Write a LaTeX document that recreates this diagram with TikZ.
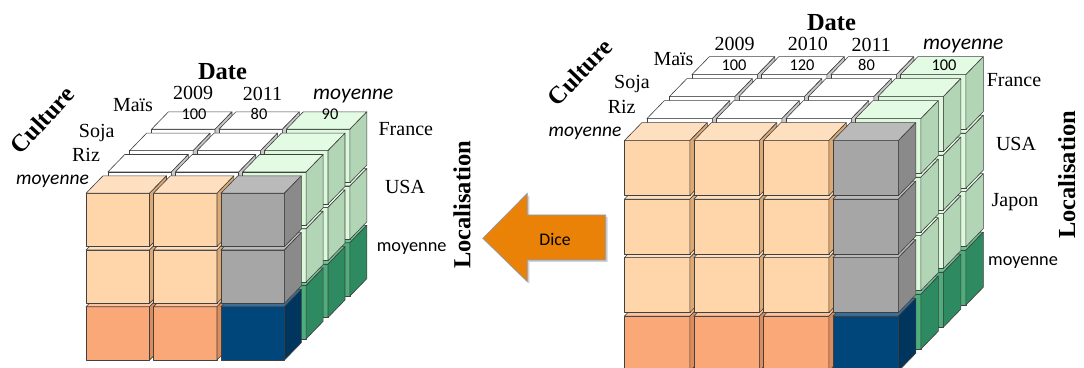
\documentclass[tikz,border=0pt]{standalone}
\usepackage{fontspec}
\setmainfont{Liberation Serif}
\newfontfamily\calibri{Carlito}
\definecolor{creamFront}{HTML}{FFD6AA}
\definecolor{creamTop}{HTML}{FEE0C0}
\definecolor{creamSide}{HTML}{DDA872}
\definecolor{salmonFront}{HTML}{FBA878}
\definecolor{salmonTop}{HTML}{FCC29E}
\definecolor{salmonSide}{HTML}{DC8C5C}
\definecolor{grayFront}{HTML}{A6A6A6}
\definecolor{grayTop}{HTML}{BABABA}
\definecolor{graySide}{HTML}{8A8A8A}
\definecolor{blueFront}{HTML}{00467A}
\definecolor{blueTop}{HTML}{3C6E9C}
\definecolor{blueSide}{HTML}{00365E}
\definecolor{whiteFront}{HTML}{FFFFFF}
\definecolor{whiteTop}{HTML}{FFFFFF}
\definecolor{whiteSide}{HTML}{C8C8C8}
\definecolor{ltgreenFront}{HTML}{DCF9DC}
\definecolor{ltgreenTop}{HTML}{E2FBE2}
\definecolor{ltgreenSide}{HTML}{B2D5B5}
\definecolor{dkgreenFront}{HTML}{4DAE7C}
\definecolor{dkgreenTop}{HTML}{6CC495}
\definecolor{dkgreenSide}{HTML}{2E8A60}
\definecolor{diceOrange}{HTML}{EA8208}
\definecolor{diceBorder}{HTML}{7F9FCA}
\newcommand{\cubeW}{65.5}
\newcommand{\cubeH}{55}
\newcommand{\cubeDx}{17.5}
\newcommand{\cubeDy}{18}
\newcommand{\colStep}{69.5}
\newcommand{\rowStep}{58.5}
\newcommand{\layerDx}{22.5}
\newcommand{\layerDy}{22}
\tikzset{
  cubeEdge/.style={draw=black!75, line width=0.6pt, line join=round},
  yearLabel/.style={font=\fontsize{20}{24}\selectfont, inner sep=0pt, anchor=base},
  titleLabel/.style={font=\fontsize{24.5}{29}\selectfont\bfseries, inner sep=0pt},
  avgItalic/.style={font=\calibri\itshape\fontsize{21.5}{26}\selectfont, inner sep=0pt, anchor=base},
  avgCulture/.style={font=\calibri\itshape\fontsize{19.5}{23}\selectfont, inner sep=0pt, anchor=base},
  avgLoc/.style={font=\calibri\fontsize{18.3}{22}\selectfont, inner sep=0pt, anchor=base},
  valueLabel/.style={font=\calibri\fontsize{16.4}{20}\selectfont, inner sep=0pt, anchor=base},
  diceArrow/.style={fill=diceOrange, draw=diceBorder, line width=0.6pt, line join=miter},
}
% one cube: front top-left corner, colour family
\newcommand{\drawCube}[3]{%
  \filldraw[cubeEdge, fill=#3Front] (#1,#2) rectangle ++(\cubeW,-\cubeH);
  \filldraw[cubeEdge, fill=#3Top] (#1,#2) -- ++(\cubeW,0) -- ++(\cubeDx,\cubeDy) -- ++(-\cubeW,0) -- cycle;
  \filldraw[cubeEdge, fill=#3Side] (#1+\cubeW,#2) -- ++(\cubeDx,\cubeDy) -- ++(0,-\cubeH) -- ++(-\cubeDx,-\cubeDy) -- cycle;
}
% whole data cube: #1 last row, #2 last column, #3 rows (bottom first)
\newcommand{\drawDataCube}[3]{%
  \foreach \lyr in {3,2,1,0} {
    \foreach \rw in {#3} {
      \foreach \cl in {0,...,#2} {
        \pgfmathsetmacro\cx{\cl*\colStep+\lyr*\layerDx}
        \pgfmathsetmacro\cy{-\rw*\rowStep+\lyr*\layerDy}
        \ifnum\lyr=0
          \ifnum\cl=#2 \ifnum\rw=#1 \def\kind{blue}\else\def\kind{gray}\fi
          \else \ifnum\rw=#1 \def\kind{salmon}\else\def\kind{cream}\fi \fi
        \else
          \ifnum\cl=#2 \ifnum\rw=#1 \def\kind{dkgreen}\else\def\kind{ltgreen}\fi
          \else \def\kind{white}\fi
        \fi
        \drawCube{\cx}{\cy}{\kind}
      }}}%
}
\begin{document}
\begin{tikzpicture}[x=1pt,y=1pt]
\useasboundingbox (0,0) rectangle (1084,367);
\clip (0,0) rectangle (1084,367);

% cube after the dice
\begin{scope}[shift={(86,173.7)},scale=0.97]
  \drawDataCube{2}{2}{2,1,0}
\end{scope}
\node[titleLabel,anchor=base] (dateL) at (222.5,287.7) {Date};
\node[yearLabel] (y2009L) at (193,267.7) {2009};
\node[yearLabel] (y2011L) at (262.5,266.3) {2011};
\node[avgItalic] (avgDateL) at (353.3,267) {moyenne};
\node[valueLabel] (v2009L) at (194,247) {100};
\node[valueLabel] (v2011L) at (259,247) {80};
\node[valueLabel] (vAvgL) at (330,247) {90};
\node[yearLabel] (maisL) at (133,255.3) {Maïs};
\node[yearLabel] (sojaL) at (96.7,229.7) {Soja};
\node[yearLabel] (rizL) at (86,205.3) {Riz};
\node[avgCulture] (avgCultL) at (52.5,182) {moyenne};
\node[titleLabel,rotate=47] (cultureL) at (42.5,247) {Culture};
\node[yearLabel] (franceL) at (405.8,231) {France};
\node[yearLabel] (usaL) at (405,173.7) {USA};
\node[avgLoc] (avgLocL) at (411.7,115.3) {moyenne};
\node[titleLabel,rotate=90] (locL) at (462,162) {Localisation};

% dice arrow
\fill[black!18] (484.7,126.7) -- (529.3,171.7) -- (529.3,150) -- (607.7,150) -- (607.7,105) -- (529.3,105) -- (529.3,83.3) -- cycle;
\filldraw[diceArrow] (482.7,128.7) -- (527.3,173.7) -- (527.3,152) -- (605.7,152) -- (605.7,107) -- (527.3,107) -- (527.3,85.3) -- cycle;
\node[font=\calibri\fontsize{17.7}{21}\selectfont, inner sep=0pt, anchor=base] (dice) at (555,121.3) {Dice};

% cube before the dice
\begin{scope}[shift={(624.3,226.3)}]
  \drawDataCube{3}{3}{3,2,1,0}
\end{scope}
\node[titleLabel,anchor=base] (dateR) at (831.5,336.3) {Date};
\node[yearLabel] (y2009R) at (734.5,316.3) {2009};
\node[yearLabel] (y2010R) at (807.8,316.3) {2010};
\node[yearLabel] (y2011R) at (871.2,315) {2011};
\node[avgItalic] (avgDateR) at (963.3,317) {moyenne};
\node[valueLabel] (v2009R) at (734,296) {100};
\node[valueLabel] (v2010R) at (802,296) {120};
\node[valueLabel] (v2011R) at (866.5,296) {80};
\node[valueLabel] (vAvgR) at (944,296) {100};
\node[yearLabel] (maisR) at (673.5,301.3) {Maïs};
\node[yearLabel] (sojaR) at (632,278.5) {Soja};
\node[yearLabel] (rizR) at (621.7,253.7) {Riz};
\node[avgCulture] (avgCultR) at (585,230.3) {moyenne};
\node[titleLabel,rotate=46] (cultureR) at (580,295) {Culture};
\node[yearLabel] (franceR) at (1014,280.3) {France};
\node[yearLabel] (usaR) at (1016,216.3) {USA};
\node[yearLabel] (japonR) at (1015,160.3) {Japon};
\node[avgLoc] (avgLocR) at (1023,102) {moyenne};
\node[titleLabel,rotate=90] (locR) at (1066.7,192) {Localisation};
\end{tikzpicture}
\end{document}
